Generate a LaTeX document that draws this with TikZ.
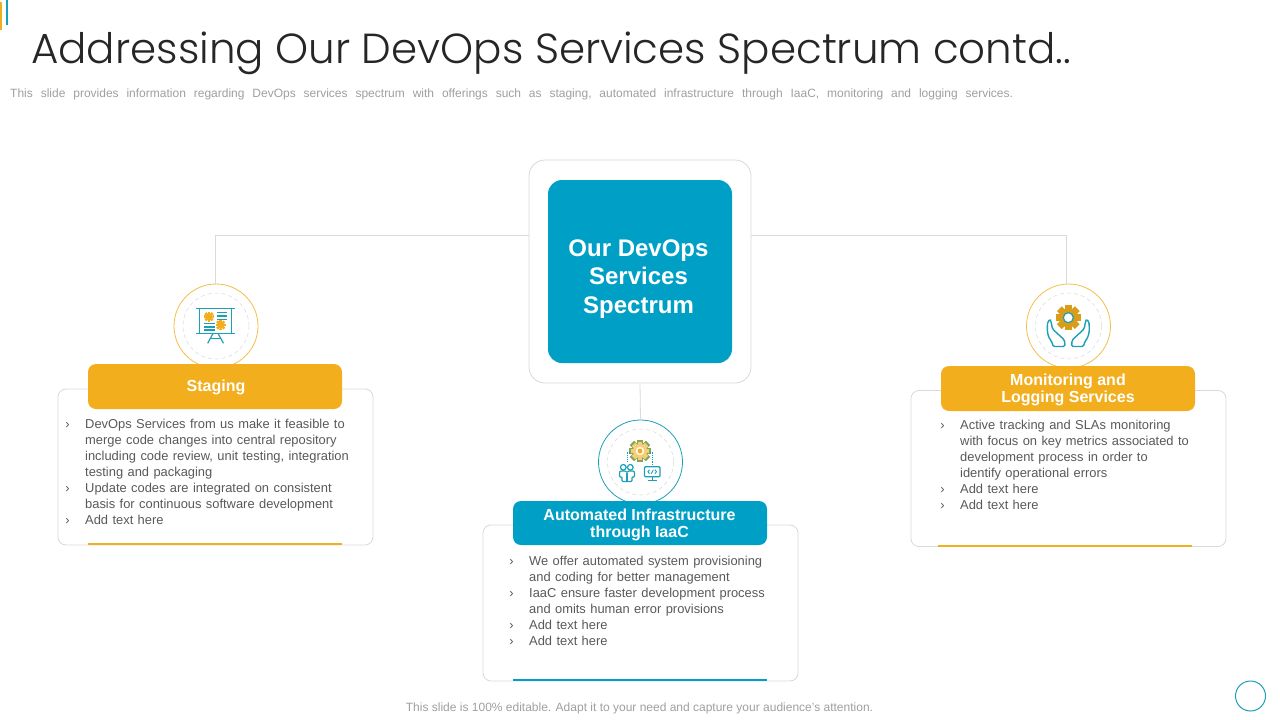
\documentclass[tikz,border=0pt]{standalone}
\usepackage{fontspec}
\usepackage{tikz}
\setmainfont{Liberation Sans}
\newfontfamily\titlefont{Poppins}[UprightFont=* Light]

\definecolor{orangefill}{HTML}{F2AE1C}
\definecolor{bluefill}{HTML}{00A0C6}
\definecolor{bodytext}{HTML}{595959}
\definecolor{edgegray}{HTML}{D9D9D9}
\definecolor{noteblue}{HTML}{1C9FB8}
\definecolor{geargreen}{HTML}{7FA65A}

\newcommand{\itemmark}{\llap{›\hspace{15.5pt}}}
\newcommand{\cardfont}{\fontsize{12.9}{16}\selectfont\spaceskip 4.4pt\relax}
\newcommand{\gearicon}[4]{
    \foreach \a in {0,45,...,315}
        \draw[#4, line width=#3*0.55pt] (#1,#2) ++(\a:#3*0.7) -- ++(\a:#3*0.33);
    \fill[#4] (#1,#2) circle[radius=#3*0.78];
}

\tikzset{
    linkline/.style={draw=edgegray, line width=0.8pt},
    hubouter/.style={draw=edgegray, fill=white, rounded corners=16pt, line width=0.8pt, minimum width=222pt, minimum height=223pt},
    hubinner/.style={fill=bluefill, rounded corners=14pt, minimum width=184pt, minimum height=183pt},
    hubtext/.style={text=white, align=center, inner sep=0pt, font=\bfseries\fontsize{24}{28.5}\selectfont},
    cardbox/.style={draw=edgegray, fill=white, rounded corners=8pt, line width=0.8pt, minimum width=315pt, minimum height=156pt},
    headbox/.style={rounded corners=8pt, minimum width=254pt, minimum height=45pt},
    headtext/.style={text=white, align=center, inner sep=0pt, font=\bfseries\fontsize{16}{17}\selectfont},
    cardtext/.style={text=bodytext, align=left, inner sep=0pt, anchor=north west, font=\cardfont},
    ring/.style={fill=white, circle, minimum size=84pt, inner sep=0pt, line width=0.8pt},
    innerring/.style={draw=edgegray, dash pattern=on 4pt off 3pt, line width=0.5pt},
    iconline/.style={draw=noteblue, line width=1.2pt},
    noteline/.style={gray!75, inner sep=0pt, font=\fontsize{12}{14}\selectfont},
}

\begin{document}
\begin{tikzpicture}[x=1pt, y=-1pt]
    \useasboundingbox (0,0) rectangle (1280,720);

    \fill[orangefill] (0,2) rectangle (2,30);
    \fill[noteblue] (6,0) rectangle (8,25);

    \node[anchor=west, inner sep=0pt, text=black!85, font=\titlefont\fontsize{42}{50}\selectfont] (title) at (31,53) {Addressing Our DevOps Services Spectrum contd..};
    \node[noteline, anchor=west] (subtitle) at (10,94.5) {\spaceskip 7.9pt\relax This slide provides information regarding DevOps services spectrum with offerings such as staging, automated infrastructure through IaaC, monitoring and logging services.};
    \node[noteline] (footnote) at (639.5,708) {This slide is 100\% editable. Adapt it to your need and capture your audience's attention.};

    \node[hubouter] (hub) at (640,271.5) {};
    \node[hubinner] (hubfill) at (640,271.5) {};
    \node[hubtext] (hubtitle) at (638.5,279) {Our DevOps\\Services\\Spectrum};

    \node[cardbox] (stagingcard) at (215.5,467) {};
    \node[cardbox] (autocard) at (640.5,603) {};
    \node[cardbox] (monitorcard) at (1068.5,468.5) {};

    \node[ring, draw=orangefill!80] (stagingring) at (216,326) {};
    \node[ring, draw=noteblue] (autoring) at (640.5,462) {};
    \node[ring, draw=orangefill!80] (monitorring) at (1068.5,326) {};

    \coordinate (hubleft) at (529,235.5);
    \coordinate (hubright) at (751,235.5);
    \coordinate (stagingtop) at (215.5,285);
    \coordinate (monitortop) at (1066,285);
    \draw[linkline] (hubleft) -| (stagingtop);
    \draw[linkline] (hubright) -| (monitortop);
    \draw[linkline] (hub.south) -- (autoring.north);

    \draw[innerring] (216,326) circle[radius=33];
    \draw[innerring] (640.5,462) circle[radius=33];
    \draw[innerring] (1068.5,326) circle[radius=33];

    \node[headbox, fill=orangefill] (staginghead) at (215,386.5) {};
    \node[headbox, fill=bluefill, minimum height=44pt] (autohead) at (640,523) {};
    \node[headbox, fill=orangefill] (monitorhead) at (1068,388.5) {};
    \node[headtext] (stagingname) at (216,387) {Staging};
    \node[headtext] (autoname) at (639.5,524.5) {Automated Infrastructure\\through IaaC};
    \node[headtext] (monitorname) at (1068,389.5) {Monitoring and\\Logging Services};

    \draw[orangefill, line width=2pt] (88,544) -- (342,544);
    \draw[bluefill, line width=2pt] (513,680) -- (767,680);
    \draw[orangefill, line width=2pt] (938,546) -- (1192,546);

    \node[cardtext] (stagingtext) at (85,418.5) {\itemmark DevOps Services from us make it feasible to\\merge code changes into central repository\\including code review, unit testing, integration\\testing and packaging\\\itemmark Update codes are integrated on consistent\\basis for continuous software development\\\itemmark Add text here};
    \node[cardtext] (autotext) at (529,555.5) {\itemmark We offer automated system provisioning\\and coding for better management\\\itemmark IaaC ensure faster development process\\and omits human error provisions\\\itemmark Add text here\\\itemmark Add text here};
    \node[cardtext] (monitortext) at (960,419.5) {\itemmark Active tracking and SLAs monitoring\\with focus on key metrics associated to\\development process in order to\\identify operational errors\\\itemmark Add text here\\\itemmark Add text here};

    \draw[iconline] (196,308.3) -- (235,308.3);
    \draw[iconline] (196,333.5) -- (235,333.5);
    \draw[iconline] (199.3,308.3) -- (199.3,333.5) (231.7,308.3) -- (231.7,333.5);
    \draw[iconline] (207.7,343.3) -- (213,333.5) (223.5,343.3) -- (218,333.5);
    \draw[iconline] (210,338.5) -- (221,338.5);
    \gearicon{209}{316.7}{5}{orangefill}
    \gearicon{220.7}{325}{5}{orangefill}
    \draw[iconline] (216.7,312.7) -- (227,312.7) (216.7,316) -- (227,316) (216.7,319.3) -- (227,319.3);
    \draw[iconline] (204,323.3) -- (215,323.3) (204,327) -- (215,327) (204,330) -- (215,330);

    \gearicon{640}{451}{11}{geargreen}
    \gearicon{640}{451}{9}{orangefill!60}
    \fill[white] (640,451) circle[radius=4.2];
    \fill[orangefill] (640,451) circle[radius=2.5];
    \draw[iconline, densely dotted] (630,453) -| (627.3,462);
    \draw[iconline, densely dotted] (650,453) -| (652.7,465);
    \draw[iconline] (623.3,467.3) circle[radius=2.8] (630.3,467.3) circle[radius=2.8];
    \draw[iconline, rounded corners=1pt] (622,481.5) -- (622,477) -- (619.5,477) -- (619.5,473) .. controls (620,470.5) and (626,470.5) .. (627,473) .. controls (628,470.5) and (634,470.5) .. (634.5,473) -- (634.5,477) -- (632,477) -- (632,481.5) -- cycle;
    \draw[iconline] (627,473) -- (627,481.5);
    \draw[iconline, rounded corners=1pt] (644.5,466.7) rectangle (660,476.7);
    \draw[iconline] (652.3,476.7) -- (652.3,480.5) (647.5,480.8) -- (657,480.8);
    \draw[iconline, line width=0.9pt] (649.5,469.7) -- (648,471.7) -- (649.5,473.7) (655,469.7) -- (656.5,471.7) -- (655,473.7) (653.3,469.7) -- (651.3,473.7);

    \gearicon{1068.3}{317.7}{12.3}{orangefill!90!black}
    \fill[white] (1068.3,317.7) circle[radius=5];
    \draw[iconline] (1068.3,317.7) circle[radius=5];
    \draw[iconline, line width=1.4pt, rounded corners=1.5pt] (1053,346.5) -- (1052,342) .. controls (1048,337) and (1047,332) .. (1047.5,325) .. controls (1047.5,321) and (1050,319) .. (1051,321.5) -- (1052.5,329) -- (1059,335) -- (1064.5,340) -- (1065,346.5) -- cycle;
    \begin{scope}[shift={(2136.6,0)}, xscale=-1]
        \draw[iconline, line width=1.4pt, rounded corners=1.5pt] (1053,346.5) -- (1052,342) .. controls (1048,337) and (1047,332) .. (1047.5,325) .. controls (1047.5,321) and (1050,319) .. (1051,321.5) -- (1052.5,329) -- (1059,335) -- (1064.5,340) -- (1065,346.5) -- cycle;
    \end{scope}

    \draw[noteblue, line width=1pt] (1250.5,696) circle[radius=15];
\end{tikzpicture}
\end{document}
